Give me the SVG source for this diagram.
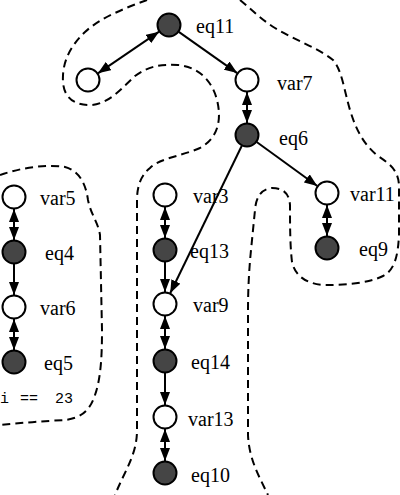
<svg xmlns="http://www.w3.org/2000/svg" width="400" height="495" viewBox="0 0 400 495">
<style>
.v{fill:#fff;stroke:#000;stroke-width:2}
.e{fill:#454545;stroke:#000;stroke-width:2}
.l{font-family:"Liberation Serif","DejaVu Serif","Times New Roman",serif;font-size:20px;fill:#000}
.m{font-family:"Liberation Mono","Courier New",monospace;font-size:15px;fill:#000}
.c{stroke:#000;stroke-width:2;fill:none}
.a{marker-end:url(#ah)}
.d{marker-start:url(#ahs);marker-end:url(#ah)}
.b{fill:none;stroke:#000;stroke-width:2;stroke-dasharray:8 5}
</style>
<defs>
<marker id="ah" viewBox="0 0 13 10" refX="13" refY="5" markerWidth="13" markerHeight="10" markerUnits="userSpaceOnUse" orient="auto">
<path d="M0,0 L13,5 L0,10 Z" fill="#000"/>
</marker>
<marker id="ahs" viewBox="0 0 13 10" refX="0" refY="5" markerWidth="13" markerHeight="10" markerUnits="userSpaceOnUse" orient="auto">
<path d="M13,0 L0,5 L13,10 Z" fill="#000"/>
</marker>
</defs>
<g id="boundaries">
<path class="b" d="M147,0 C125,8 100,18 85,32 C68,48 62,65 63,82 C64,98 75,106 92,105 C110,103 122,88 135,76 C148,66 162,64 178,65 C198,67 212,80 217,100 C222,120 218,138 200,148 C182,156 160,158 150,168 C140,176 137,188 137,200 L137,430 C137,455 125,470 115,495"/>
<path class="b" d="M240,0 C252,10 262,20 275,28 C295,40 318,48 333,60 C342,70 344,90 350,110 C356,130 364,145 378,156 C390,164 398,170 399,185 L399,235 C398,255 395,270 383,276 C370,283 345,285 325,285 C305,284 295,275 292,262 C290,245 290,225 290,205 C289,192 282,188 272,188 C262,189 256,196 255,210 L251,250 C249,270 248,290 248,310 L248,435 C249,460 260,478 268,495"/>
<path class="b" d="M0,175 C20,168 45,164 65,167 C80,171 86,185 88,200 C91,215 98,222 100,235 L102,330 C102,355 101,378 95,395 C90,410 82,418 65,420 C45,421 20,423 0,425"/>
</g>
<g id="connectors">
<line class="c d" x1="97.9" y1="73.3" x2="159.1" y2="31.7"/>
<line class="c a" x1="178.8" y1="31.9" x2="237.2" y2="73.1"/>
<line class="c d" x1="247" y1="92" x2="247" y2="123"/>
<line class="c a" x1="256.7" y1="142" x2="317.3" y2="186"/>
<line class="c a" x1="241.8" y1="145.8" x2="170.2" y2="293.2"/>
<line class="c d" x1="327" y1="205" x2="327" y2="236"/>
<line class="c d" x1="14" y1="209" x2="14" y2="240"/>
<line class="c a" x1="14" y1="264" x2="14" y2="295"/>
<line class="c d" x1="14" y1="319" x2="14" y2="350"/>
<line class="c d" x1="165" y1="207" x2="165" y2="238"/>
<line class="c a" x1="165" y1="262" x2="165" y2="292"/>
<line class="c d" x1="165" y1="316" x2="165" y2="349"/>
<line class="c a" x1="165" y1="373" x2="165" y2="405"/>
<line class="c d" x1="165" y1="429" x2="165" y2="461"/>
</g>
<g id="n0"><circle class="v" cx="88" cy="80" r="11.5"/></g>
<g id="eq11"><circle class="e" cx="169" cy="25" r="11.5"/><text class="l" x="196" y="33">eq11</text></g>
<g id="var7"><circle class="v" cx="247" cy="80" r="11.5"/><text class="l" x="277" y="90">var7</text></g>
<g id="eq6"><circle class="e" cx="247" cy="135" r="11.5"/><text class="l" x="279" y="145">eq6</text></g>
<g id="var11"><circle class="v" cx="327" cy="193" r="11.5"/><text class="l" x="350" y="201">var11</text></g>
<g id="eq9"><circle class="e" cx="327" cy="248" r="11.5"/><text class="l" x="359" y="256">eq9</text></g>
<g id="var5"><circle class="v" cx="14" cy="197" r="11.5"/><text class="l" x="40" y="205">var5</text></g>
<g id="eq4"><circle class="e" cx="14" cy="252" r="11.5"/><text class="l" x="45" y="260">eq4</text></g>
<g id="var6"><circle class="v" cx="14" cy="307" r="11.5"/><text class="l" x="40" y="315">var6</text></g>
<g id="eq5"><circle class="e" cx="14" cy="362" r="11.5"/><text class="l" x="44" y="370">eq5</text></g>
<g id="var3"><circle class="v" cx="165" cy="195" r="11.5"/><text class="l" x="193" y="203">var3</text></g>
<g id="eq13"><circle class="e" cx="165" cy="250" r="11.5"/><text class="l" x="190" y="258">eq13</text></g>
<g id="var9"><circle class="v" cx="165" cy="304" r="11.5"/><text class="l" x="193" y="312">var9</text></g>
<g id="eq14"><circle class="e" cx="165" cy="361" r="11.5"/><text class="l" x="191" y="369">eq14</text></g>
<g id="var13"><circle class="v" cx="165" cy="417" r="11.5"/><text class="l" x="188" y="426">var13</text></g>
<g id="eq10"><circle class="e" cx="165" cy="473" r="11.5"/><text class="l" x="191" y="482">eq10</text></g>
<g id="cond"><text class="m" y="403"><tspan x="0">i</tspan><tspan x="20">==</tspan><tspan x="55">23</tspan></text></g>
</svg>
